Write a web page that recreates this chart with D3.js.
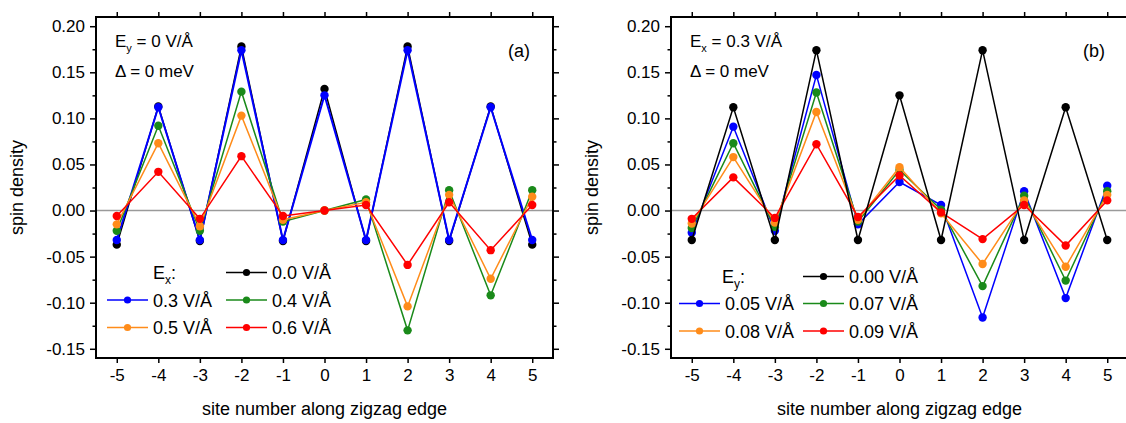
<!DOCTYPE html>
<html>
<head>
<meta charset="utf-8">
<script src="https://cdn.jsdelivr.net/npm/d3@7"></script>
<style>
  body { margin: 0; background: #fff; }
  svg { font-family: "Liberation Sans", Arial, sans-serif; }
</style>
</head>
<body>
<script>

// sites along the edge
var sites = [-5, -4, -3, -2, -1, 0, 1, 2, 3, 4, 5];

// panel (a): Ey = 0, varying Ex
var aEx00 = [-0.037, 0.113, -0.033, 0.178, -0.033, 0.132, -0.033, 0.178, -0.033, 0.113, -0.037];
var aEx03 = [-0.032, 0.112, -0.032, 0.174, -0.032, 0.125, -0.032, 0.174, -0.032, 0.112, -0.032];
var aEx04 = [-0.022, 0.092, -0.022, 0.129, -0.012, 0.000, 0.012, -0.130, 0.022, -0.092, 0.022];
var aEx05 = [-0.015, 0.073, -0.017, 0.103, -0.010, 0.000, 0.009, -0.104, 0.017, -0.074, 0.015];
var aEx06 = [-0.006, 0.042, -0.009, 0.059, -0.006, 0.000, 0.006, -0.059, 0.009, -0.043, 0.006];

// panel (b): Ex = 0.3, varying Ey
var bEy000 = [-0.032, 0.112, -0.032, 0.174, -0.032, 0.125, -0.032, 0.174, -0.032, 0.112, -0.032];
var bEy005 = [-0.024, 0.091, -0.022, 0.147, -0.015, 0.031, 0.006, -0.116, 0.021, -0.095, 0.027];
var bEy007 = [-0.019, 0.073, -0.018, 0.128, -0.012, 0.044, 0.001, -0.082, 0.016, -0.076, 0.021];
var bEy008 = [-0.014, 0.058, -0.013, 0.107, -0.010, 0.047, -0.003, -0.058, 0.011, -0.061, 0.017];
var bEy009 = [-0.009, 0.036, -0.008, 0.072, -0.007, 0.038, -0.002, -0.031, 0.006, -0.038, 0.011];

// ticks
var yTicks = [0.20, 0.15, 0.10, 0.05, 0.00, -0.05, -0.10, -0.15];
var yTickLabels = ["0.20", "0.15", "0.10", "0.05", "0.00", "-0.05", "-0.10", "-0.15"];
var yMinor = [0.175, 0.125, 0.075, 0.025, -0.025, -0.075, -0.125];
var xTickLabels = ["-5", "-4", "-3", "-2", "-1", "0", "1", "2", "3", "4", "5"];

var colBlack = "#000000", colBlue = "#0000ff", colGreen = "#1a8a1a",
    colOrange = "#ff8c1a", colRed = "#ff0000";

var W = 1126, H = 423;
var pw = 457, ph = 341;

var svg = d3.select("body").append("svg")
    .attr("width", W)
    .attr("height", H);

var x = d3.scaleLinear().domain([-5.5, 5.5]).range([0, pw]);
var y = d3.scaleLinear().domain([-0.16, 0.21]).range([ph, 0]);

function drawPanel(left, top, series, legend, note, tag) {

    var g = svg.append("g").attr("transform", "translate(" + left + "," + top + ")");

    // zero line
    g.append("line")
        .attr("x1", 0).attr("x2", pw)
        .attr("y1", y(0)).attr("y2", y(0))
        .attr("stroke", "#9a9a9a")
        .attr("stroke-width", 1.5);

    // axes
    var fmtY = function(d) { return yTickLabels[yTicks.indexOf(d)]; };
    var fmtX = function(d) { return xTickLabels[sites.indexOf(d)]; };

    g.append("g")
        .call(d3.axisLeft(y).tickValues(yTicks).tickFormat(fmtY).tickSize(6).tickPadding(5));
    g.append("g")
        .call(d3.axisLeft(y).tickValues(yMinor).tickFormat("").tickSize(3.5));
    g.append("g").attr("transform", "translate(" + pw + ",0)")
        .call(d3.axisRight(y).tickValues(yTicks).tickFormat("").tickSize(6));
    g.append("g").attr("transform", "translate(" + pw + ",0)")
        .call(d3.axisRight(y).tickValues(yMinor).tickFormat("").tickSize(3.5));
    g.append("g").attr("transform", "translate(0," + ph + ")")
        .call(d3.axisBottom(x).tickValues(sites).tickFormat(fmtX).tickSize(5).tickPadding(6));
    g.append("g")
        .call(d3.axisTop(x).tickValues(sites).tickFormat("").tickSize(5));

    g.selectAll(".domain").remove();
    g.selectAll(".tick line").attr("stroke", "#000").attr("stroke-width", 1.5);
    g.selectAll(".tick text").attr("fill", "#000").style("font-size", "17px")
        .style("font-family", "'Liberation Sans', Arial, sans-serif");

    // frame
    g.append("rect")
        .attr("x", 0).attr("y", 0)
        .attr("width", pw).attr("height", ph)
        .attr("fill", "none")
        .attr("stroke", "#000")
        .attr("stroke-width", 2);

    // series
    var line = d3.line()
        .x(function(d, i) { return x(sites[i]); })
        .y(function(d) { return y(d); });

    series.forEach(function(s) {
        g.append("path")
            .datum(s.values)
            .attr("d", line)
            .attr("fill", "none")
            .attr("stroke", s.color)
            .attr("stroke-width", s.width);
        g.selectAll(null)
            .data(s.values)
            .enter()
            .append("circle")
            .attr("cx", function(d, i) { return x(sites[i]); })
            .attr("cy", function(d) { return y(d); })
            .attr("r", 4.2)
            .attr("fill", s.color);
    });

    // legend
    var lg = g.append("g");
    var t = lg.append("text")
        .attr("x", legend.titleX)
        .attr("y", legend.rowY[0] + 6)
        .style("font-size", "18px");
    t.append("tspan").text("E");
    t.append("tspan").attr("dy", 5).style("font-size", "12px").text(legend.sub);
    t.append("tspan").attr("dy", -5).text(":");

    legend.items.forEach(function(it) {
        var ly = legend.rowY[it.row];
        var lx = legend.colX[it.col];
        lg.append("line")
            .attr("x1", lx).attr("x2", lx + 41)
            .attr("y1", ly).attr("y2", ly)
            .attr("stroke", it.color)
            .attr("stroke-width", 1.5);
        lg.append("circle")
            .attr("cx", lx + 20.5).attr("cy", ly)
            .attr("r", 3.6)
            .attr("fill", it.color);
        lg.append("text")
            .attr("x", lx + 46)
            .attr("y", ly + 6.5)
            .style("font-size", "18px")
            .text(it.label);
    });

    // annotation
    var a1 = g.append("text").attr("x", 19).attr("y", 30).style("font-size", "17px");
    a1.append("tspan").text("E");
    a1.append("tspan").attr("dy", 5).style("font-size", "11px").text(note.sub);
    a1.append("tspan").attr("dy", -5).text(note.value);
    g.append("text").attr("x", 19).attr("y", 60).style("font-size", "17px").text("\u0394 = 0 meV");
    g.append("text").attr("x", pw - 45).attr("y", 40).style("font-size", "18px").text(tag);

    // axis titles
    g.append("text")
        .attr("transform", "translate(" + (-73) + "," + (ph / 2) + ") rotate(-90)")
        .attr("text-anchor", "middle")
        .style("font-size", "18px")
        .text("spin density");
    g.append("text")
        .attr("x", pw / 2)
        .attr("y", 398)
        .attr("text-anchor", "middle")
        .style("font-size", "18px")
        .text("site number along zigzag edge");
}

drawPanel(96, 17,
    [
        {values: aEx00, color: colBlack, width: 1.5},
        {values: aEx03, color: colBlue, width: 2},
        {values: aEx04, color: colGreen, width: 1.5},
        {values: aEx05, color: colOrange, width: 1.5},
        {values: aEx06, color: colRed, width: 1.5}
    ],
    {
        sub: "x", titleX: 57, rowY: [255.5, 283, 310.5], colX: [11, 130],
        items: [
            {row: 0, col: 1, color: colBlack, label: "0.0 V/\u00c5"},
            {row: 1, col: 0, color: colBlue, label: "0.3 V/\u00c5"},
            {row: 1, col: 1, color: colGreen, label: "0.4 V/\u00c5"},
            {row: 2, col: 0, color: colOrange, label: "0.5 V/\u00c5"},
            {row: 2, col: 1, color: colRed, label: "0.6 V/\u00c5"}
        ]
    },
    {sub: "y", value: " = 0 V/\u00c5"}, "(a)");

drawPanel(671, 17,
    [
        {values: bEy005, color: colBlue, width: 1.5},
        {values: bEy007, color: colGreen, width: 1.5},
        {values: bEy008, color: colOrange, width: 1.5},
        {values: bEy009, color: colRed, width: 1.5},
        {values: bEy000, color: colBlack, width: 1.5}
    ],
    {
        sub: "y", titleX: 51, rowY: [259.5, 286.5, 314], colX: [8, 132],
        items: [
            {row: 0, col: 1, color: colBlack, label: "0.00 V/\u00c5"},
            {row: 1, col: 0, color: colBlue, label: "0.05 V/\u00c5"},
            {row: 1, col: 1, color: colGreen, label: "0.07 V/\u00c5"},
            {row: 2, col: 0, color: colOrange, label: "0.08 V/\u00c5"},
            {row: 2, col: 1, color: colRed, label: "0.09 V/\u00c5"}
        ]
    },
    {sub: "x", value: " = 0.3 V/\u00c5"}, "(b)");

</script>
</body>
</html>
